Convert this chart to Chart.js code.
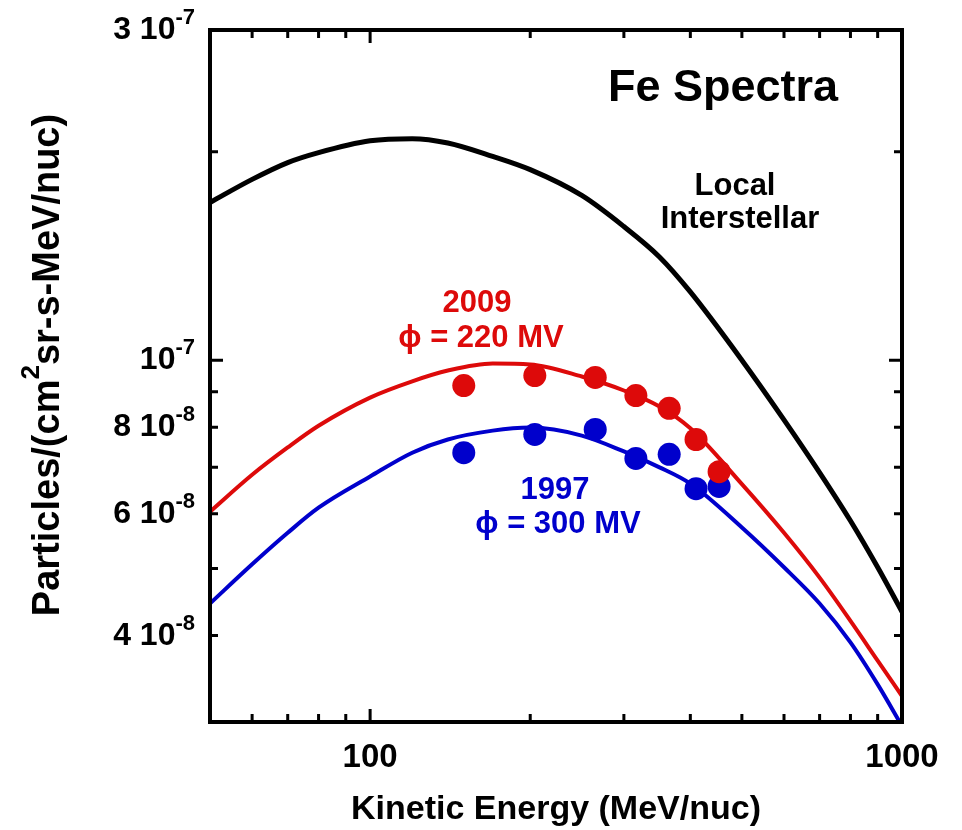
<!DOCTYPE html>
<html>
<head>
<meta charset="utf-8">
<title>Fe Spectra</title>
<script src="https://cdn.jsdelivr.net/npm/chart.js@4.4.1/dist/chart.umd.min.js"></script>
<style>
    html, body { margin: 0; padding: 0; background: #fff; }
    #wrap { width: 962px; height: 830px; }
</style>
</head>
<body>
<div id="wrap"><canvas id="feChart" width="962" height="830"></canvas></div>
<script>
// Model curves (MeV/nuc vs particles/(cm2 sr s MeV/nuc))
const energyGrid = [50, 60, 70, 80, 100, 120, 140, 170, 200, 250, 300, 350, 400, 500, 600, 700, 800, 900, 1000];
const lisFlux = [1.69e-7, 1.825e-7, 1.93e-7, 1.995e-7, 2.075e-7, 2.09e-7, 2.06e-7, 1.97e-7, 1.885e-7, 1.73e-7, 1.56e-7, 1.41e-7, 1.255e-7, 1.0e-7, 8.2e-8, 6.88e-8, 5.86e-8, 5.02e-8, 4.33e-8];
const flux2009 = [6.04e-8, 6.83e-8, 7.48e-8, 8.04e-8, 8.83e-8, 9.32e-8, 9.66e-8, 9.89e-8, 9.86e-8, 9.47e-8, 9.04e-8, 8.57e-8, 7.97e-8, 6.62e-8, 5.63e-8, 4.85e-8, 4.20e-8, 3.68e-8, 3.27e-8];
const flux1997 = [4.45e-8, 5.07e-8, 5.63e-8, 6.12e-8, 6.79e-8, 7.35e-8, 7.68e-8, 7.91e-8, 7.99e-8, 7.78e-8, 7.38e-8, 7.0e-8, 6.63e-8, 5.73e-8, 5.02e-8, 4.45e-8, 3.91e-8, 3.40e-8, 2.96e-8];

// Measured points
const dotEnergy = [150, 204, 265, 316, 365, 410, 453];
const dots2009 = [9.19e-8, 9.50e-8, 9.44e-8, 8.89e-8, 8.52e-8, 7.68e-8, 6.90e-8];
const dots1997 = [7.35e-8, 7.81e-8, 7.94e-8, 7.21e-8, 7.31e-8, 6.52e-8, 6.57e-8];

// Axis ticks
const xRange = [50, 1000];
const yRange = [3e-8, 3e-7];
const xLabelValues = [100, 1000];
const xLabelTexts = ['100', '1000'];
const xMinorTicks = [60, 70, 80, 90, 200, 300, 400, 500, 600, 700, 800, 900];
const yLabelValues = [3e-7, 1e-7, 8e-8, 6e-8, 4e-8];
const yLabelMantissa = ['3 10', '10', '8 10', '6 10', '4 10'];
const yLabelExponent = ['-7', '-7', '-8', '-8', '-8'];
const yMajorTicks = [1e-7];
const yMinorTicks = [2e-7, 9e-8, 8e-8, 7e-8, 6e-8, 5e-8, 4e-8];

const RED = '#dd0a0a';
const BLUE = '#0000cc';
const FONT = '"Liberation Sans", Arial, Helvetica, sans-serif';

function pairs(xs, ys) {
    return xs.map((x, i) => ({ x: x, y: ys[i] }));
}

// text with a superscript, anchored at its right end or centred
function drawSup(ctx, base, sup, x, y, size, supSize, rise, align) {
    ctx.font = 'bold ' + size + 'px ' + FONT;
    const wb = ctx.measureText(base).width;
    ctx.font = 'bold ' + supSize + 'px ' + FONT;
    const ws = ctx.measureText(sup).width;
    let x0 = x;
    if (align === 'right') x0 = x - wb - ws;
    if (align === 'center') x0 = x - (wb + ws) / 2;
    ctx.textAlign = 'left';
    ctx.textBaseline = 'alphabetic';
    ctx.font = 'bold ' + size + 'px ' + FONT;
    ctx.fillText(base, x0, y);
    ctx.font = 'bold ' + supSize + 'px ' + FONT;
    ctx.fillText(sup, x0 + wb, y - rise);
}

const framePlugin = {
    id: 'frameAndText',
    afterDatasetsDraw(chart) {
        const ctx = chart.ctx;
        const area = chart.chartArea;
        const xs = chart.scales.x;
        const ys = chart.scales.y;
        ctx.save();
        ctx.strokeStyle = '#000';
        ctx.fillStyle = '#000';

        // frame
        ctx.lineWidth = 4;
        ctx.strokeRect(area.left, area.top, area.right - area.left, area.bottom - area.top);

        // inward ticks
        ctx.lineWidth = 3;
        ctx.beginPath();
        const xTick = (v, len) => {
            const px = xs.getPixelForValue(v);
            ctx.moveTo(px, area.bottom); ctx.lineTo(px, area.bottom - len);
            ctx.moveTo(px, area.top); ctx.lineTo(px, area.top + len);
        };
        const yTick = (v, len) => {
            const py = ys.getPixelForValue(v);
            ctx.moveTo(area.left, py); ctx.lineTo(area.left + len, py);
            ctx.moveTo(area.right, py); ctx.lineTo(area.right - len, py);
        };
        xMinorTicks.forEach(v => xTick(v, 8));
        xLabelValues.forEach(v => xTick(v, 13));
        yMinorTicks.forEach(v => yTick(v, 8));
        yMajorTicks.forEach(v => yTick(v, 13));
        ctx.stroke();

        // x tick labels
        ctx.font = 'bold 33px ' + FONT;
        ctx.textAlign = 'center';
        ctx.textBaseline = 'alphabetic';
        xLabelValues.forEach((v, i) => {
            ctx.fillText(xLabelTexts[i], xs.getPixelForValue(v), area.bottom + 45);
        });

        // y tick labels
        yLabelValues.forEach((v, i) => {
            const py = ys.getPixelForValue(v);
            drawSup(ctx, yLabelMantissa[i], yLabelExponent[i], area.left - 15, py + 9, 32, 22, 15, 'right');
        });

        // axis titles
        ctx.font = 'bold 34px ' + FONT;
        ctx.textAlign = 'center';
        ctx.fillText('Kinetic Energy (MeV/nuc)', 556, 819);

        ctx.save();
        ctx.translate(59, 365);
        ctx.rotate(-Math.PI / 2);
        ctx.font = 'bold 38px ' + FONT;
        const t1 = 'Particles/(cm';
        const t2 = 'sr-s-MeV/nuc)';
        const w1 = ctx.measureText(t1).width;
        const w3 = ctx.measureText(t2).width;
        ctx.font = 'bold 26px ' + FONT;
        const w2 = ctx.measureText('2').width;
        let x0 = -(w1 + w2 + w3) / 2;
        ctx.textAlign = 'left';
        ctx.font = 'bold 38px ' + FONT;
        ctx.fillText(t1, x0, 0);
        ctx.font = 'bold 26px ' + FONT;
        ctx.fillText('2', x0 + w1, -20);
        ctx.font = 'bold 38px ' + FONT;
        ctx.fillText(t2, x0 + w1 + w2, 0);
        ctx.restore();

        // annotations
        ctx.textAlign = 'center';
        ctx.font = 'bold 45px ' + FONT;
        ctx.fillText('Fe Spectra', 723, 101);
        ctx.font = 'bold 31px ' + FONT;
        ctx.fillText('Local', 735, 195);
        ctx.fillText('Interstellar', 740, 228);

        ctx.fillStyle = RED;
        ctx.fillText('2009', 477, 312);
        ctx.fillText('\u03D5 = 220 MV', 481, 347);

        ctx.fillStyle = BLUE;
        ctx.fillText('1997', 555, 499);
        ctx.fillText('\u03D5 = 300 MV', 558, 533);

        ctx.restore();
    }
};

const ctx = document.getElementById('feChart').getContext('2d');
const feChart = new Chart(ctx, {
    type: 'line',
    data: {
        datasets: [
            {
                label: '2009 data',
                type: 'scatter',
                data: pairs(dotEnergy, dots2009),
                backgroundColor: RED,
                borderWidth: 0,
                pointRadius: 11.5,
                pointHoverRadius: 11.5,
                order: 0
            },
            {
                label: '1997 data',
                type: 'scatter',
                data: pairs(dotEnergy, dots1997),
                backgroundColor: BLUE,
                borderWidth: 0,
                pointRadius: 11.5,
                pointHoverRadius: 11.5,
                order: 1
            },
            {
                label: 'Local Interstellar',
                data: pairs(energyGrid, lisFlux),
                borderColor: '#000',
                borderWidth: 5,
                pointRadius: 0,
                cubicInterpolationMode: 'monotone',
                fill: false,
                order: 2
            },
            {
                label: '2009 model',
                data: pairs(energyGrid, flux2009),
                borderColor: RED,
                borderWidth: 4,
                pointRadius: 0,
                cubicInterpolationMode: 'monotone',
                fill: false,
                order: 3
            },
            {
                label: '1997 model',
                data: pairs(energyGrid, flux1997),
                borderColor: BLUE,
                borderWidth: 4,
                pointRadius: 0,
                cubicInterpolationMode: 'monotone',
                fill: false,
                order: 4
            }
        ]
    },
    options: {
        responsive: false,
        animation: false,
        devicePixelRatio: 1,
        layout: { padding: { left: 210, right: 60, top: 30, bottom: 108 } },
        plugins: {
            legend: { display: false },
            tooltip: { enabled: false }
        },
        scales: {
            x: { type: 'logarithmic', min: xRange[0], max: xRange[1], display: false },
            y: { type: 'logarithmic', min: yRange[0], max: yRange[1], display: false }
        }
    },
    plugins: [framePlugin]
});
</script>
</body>
</html>
